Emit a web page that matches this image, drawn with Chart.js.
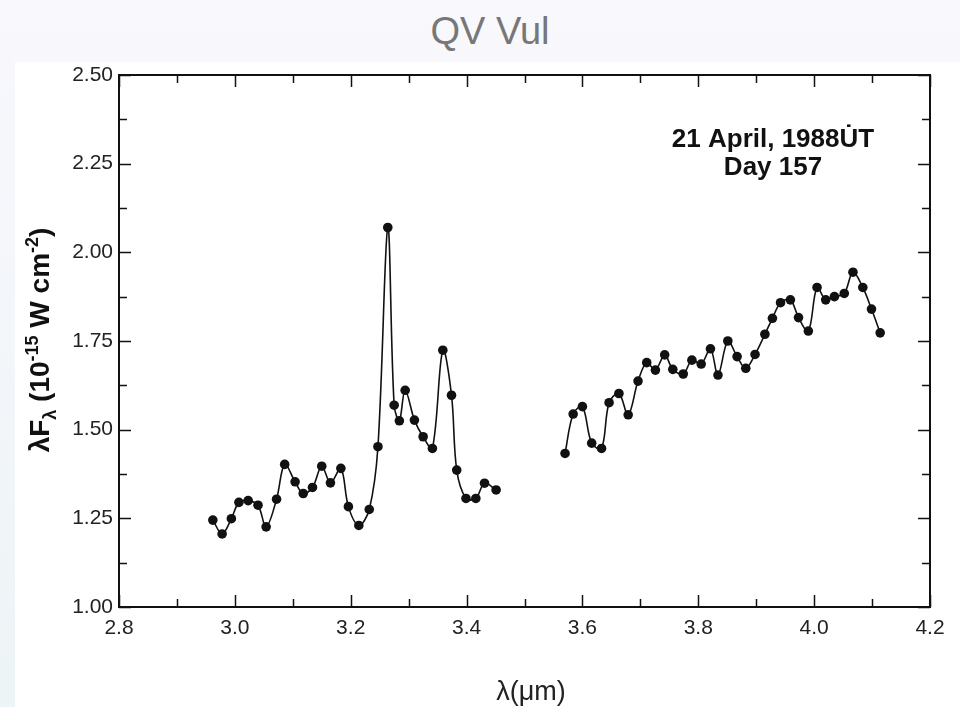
<!DOCTYPE html>
<html>
<head>
<meta charset="utf-8">
<title>QV Vul</title>
<script src="https://cdn.jsdelivr.net/npm/chart.js@4.4.1/dist/chart.umd.min.js"></script>
<style>
  html, body { margin: 0; padding: 0; }
  body {
    width: 960px; height: 707px; overflow: hidden;
    background: linear-gradient(#f8f8fd, #edf4f6);
    position: relative;
  }
  #panel { position: absolute; left: 15px; top: 62px; width: 945px; height: 645px; background: #fff; }
  #title {
    position: absolute; left: 0; top: 8px; width: 980px; text-align: center;
    font-family: "Liberation Sans", Arial, sans-serif; font-size: 38px; line-height: 46px; color: #777;
  }
  #wrap { position: absolute; left: 0; top: 0; width: 960px; height: 707px; }
</style>
</head>
<body>
<div id="panel"></div>
<div id="title">QV Vul</div>
<div id="wrap"><canvas id="spectrum"></canvas></div>
<script>
// ===== Data =====
// 3.0 - 3.45 micron segment
const wave1 = [2.962, 2.978, 2.994, 3.007, 3.023, 3.040, 3.054, 3.072, 3.086, 3.104, 3.118,
  3.134, 3.150, 3.165, 3.183, 3.196, 3.214, 3.232, 3.247, 3.264, 3.275, 3.284, 3.294,
  3.310, 3.325, 3.341, 3.359, 3.374, 3.383, 3.399, 3.416, 3.431, 3.451];
const flux1 = [1.245, 1.206, 1.249, 1.295, 1.300, 1.287, 1.226, 1.304, 1.402, 1.353, 1.320,
  1.337, 1.397, 1.350, 1.391, 1.283, 1.230, 1.275, 1.452, 2.070, 1.569, 1.525, 1.611,
  1.527, 1.480, 1.447, 1.724, 1.597, 1.386, 1.306, 1.306, 1.349, 1.330];

// 3.55 - 4.1 micron segment
const wave2 = [3.570, 3.584, 3.600, 3.616, 3.633, 3.646, 3.663, 3.679, 3.696, 3.711, 3.726,
  3.742, 3.756, 3.774, 3.789, 3.805, 3.821, 3.834, 3.851, 3.867, 3.882, 3.898, 3.915,
  3.928, 3.942, 3.959, 3.973, 3.990, 4.005, 4.020, 4.035, 4.052, 4.067, 4.084, 4.099, 4.114];
const flux2 = [1.433, 1.544, 1.565, 1.462, 1.447, 1.576, 1.602, 1.542, 1.637, 1.689, 1.668,
  1.711, 1.670, 1.657, 1.696, 1.685, 1.728, 1.654, 1.750, 1.706, 1.673, 1.712, 1.769,
  1.814, 1.858, 1.866, 1.816, 1.778, 1.901, 1.866, 1.875, 1.884, 1.944, 1.901, 1.840, 1.773];

const xTicks = [2.8, 3.0, 3.2, 3.4, 3.6, 3.8, 4.0, 4.2];
const yTicks = [1.00, 1.25, 1.50, 1.75, 2.00, 2.25, 2.50];
const noteLines = ['21 April, 1988U\u0307T', 'Day 157'];
const xTitle = 'λ(μm)';

const toPoints = (xs, ys) => xs.map((x, i) => ({ x: x, y: ys[i] }));

// ===== Frame, inward ticks, labels drawn on top =====
const framePlugin = {
  id: 'frame',
  afterDraw(chart) {
    const { ctx, chartArea: a, scales } = chart;
    const xs = scales.x, ys = scales.y;
    ctx.save();
    ctx.strokeStyle = '#111';
    ctx.lineWidth = 2;
    ctx.strokeRect(a.left, a.top, a.right - a.left, a.bottom - a.top);

    ctx.lineWidth = 1.5;
    ctx.beginPath();
    for (let v = 2.8; v <= 4.2001; v += 0.1) {
      const px = Math.round(xs.getPixelForValue(v)) + 0.5;
      const major = Math.abs(Math.round(v * 10) % 2) === 0;
      const len = major ? 12 : 8;
      ctx.moveTo(px, a.bottom); ctx.lineTo(px, a.bottom - len);
      ctx.moveTo(px, a.top); ctx.lineTo(px, a.top + len);
    }
    for (let v = 1.0; v <= 2.5001; v += 0.125) {
      const py = Math.round(ys.getPixelForValue(v)) + 0.5;
      const major = Math.abs(Math.round(v * 8) % 2) === 0;
      const len = major ? 12 : 8;
      ctx.moveTo(a.left, py); ctx.lineTo(a.left + len, py);
      ctx.moveTo(a.right, py); ctx.lineTo(a.right - len, py);
    }
    ctx.stroke();

    // annotation
    ctx.fillStyle = '#111';
    ctx.font = 'bold 26px "Liberation Sans", Arial, sans-serif';
    ctx.textAlign = 'center';
    ctx.textBaseline = 'alphabetic';
    ctx.fillText(noteLines[0], 773, 147);
    ctx.fillText(noteLines[1], 773, 175);

    // x axis title
    ctx.fillStyle = '#222';
    ctx.font = '27px "Liberation Sans", Arial, sans-serif';
    ctx.fillText(xTitle, 531, 700);

    // y axis title with subscript / superscripts
    ctx.fillStyle = '#111';
    ctx.translate(49, 340);
    ctx.rotate(-Math.PI / 2);
    const big = 'bold 28px "Liberation Sans", Arial, sans-serif';
    const small = 'bold 18px "Liberation Sans", Arial, sans-serif';
    const parts = [
      { t: 'λF', f: big, dy: 0 },
      { t: 'λ', f: small, dy: 7 },
      { t: ' (10', f: big, dy: 0 },
      { t: '-15', f: small, dy: -11 },
      { t: ' W cm', f: big, dy: 0 },
      { t: '-2', f: small, dy: -11 },
      { t: ')', f: big, dy: 0 }
    ];
    let total = 0;
    parts.forEach(p => { ctx.font = p.f; total += ctx.measureText(p.t).width; });
    let cx = -total / 2;
    ctx.textAlign = 'left';
    parts.forEach(p => {
      ctx.font = p.f;
      ctx.fillText(p.t, cx, p.dy);
      cx += ctx.measureText(p.t).width;
    });
    ctx.restore();
  }
};

const tickFont = { family: '"Liberation Sans", Arial, sans-serif', size: 21 };

new Chart(document.getElementById('spectrum'), {
  type: 'scatter',
  data: {
    datasets: [
      { data: toPoints(wave1, flux1) },
      { data: toPoints(wave2, flux2) }
    ]
  },
  options: {
    responsive: true,
    maintainAspectRatio: false,
    animation: false,
    layout: { padding: { top: 75, right: 30, left: 0, bottom: 0 } },
    elements: {
      line: { borderColor: '#111', borderWidth: 1.6, tension: 0.35, fill: false },
      point: { radius: 4.8, backgroundColor: '#111', borderColor: '#111', borderWidth: 0 }
    },
    datasets: { scatter: { showLine: true } },
    plugins: { legend: { display: false }, tooltip: { enabled: false } },
    scales: {
      x: {
        type: 'linear', min: 2.8, max: 4.2,
        afterBuildTicks: s => { s.ticks = xTicks.map(v => ({ value: v })); },
        afterFit: s => { s.height = 100; },
        grid: { display: false, drawTicks: false },
        border: { display: false },
        ticks: { color: '#222', font: tickFont, padding: 9, maxRotation: 0,
          callback: v => v.toFixed(1) }
      },
      y: {
        type: 'linear', min: 1.0, max: 2.5,
        afterBuildTicks: s => { s.ticks = yTicks.map(v => ({ value: v })); },
        afterFit: s => { s.width = 119; },
        grid: { display: false, drawTicks: false },
        border: { display: false },
        ticks: { color: '#222', font: tickFont, padding: 6, callback: v => v.toFixed(2) }
      }
    }
  },
  plugins: [framePlugin]
});
</script>
</body>
</html>
